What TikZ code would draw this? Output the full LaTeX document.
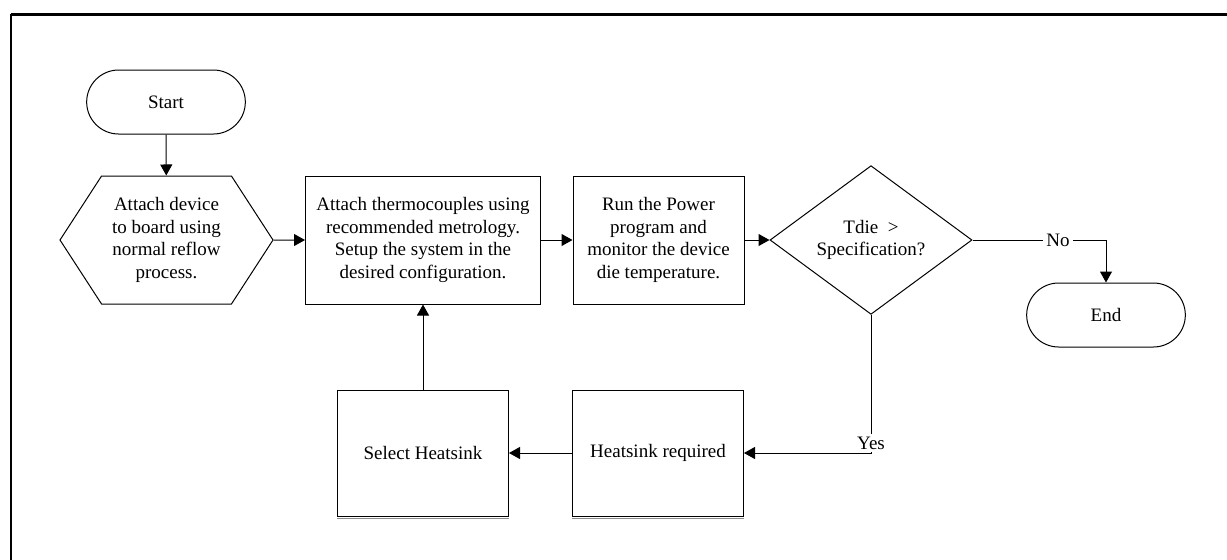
\documentclass[tikz,border=0pt]{standalone}
\usepackage{fontspec}
\setmainfont{Liberation Serif}
\usetikzlibrary{arrows.meta, shapes.geometric, shapes.misc, shapes.symbols}

\tikzset{
  termbox/.style={draw, rounded rectangle, line width=0.5pt, minimum width=86pt, minimum height=32pt},
  procbox/.style={draw, rectangle, line width=0.5pt, minimum height=64pt, inner sep=3pt},
  lowbox/.style={draw, rectangle, line width=0.5pt, minimum width=85.5pt, minimum height=63pt},
  lbl/.style={fill=white, inner sep=1.5pt}
}

\begin{document}
\begin{tikzpicture}[x=0.5pt, y=-0.5pt, every node/.style={align=center, font=\fontsize{9.5}{11.4}\selectfont}, >={Triangle[length=5.5pt,width=6pt]}, line width=0.5pt]
    \useasboundingbox (0,0) rectangle (1227,559);
    % frame
    \draw[line width=1pt] (11,570) -- (11,14);
    \draw[line width=1.5pt] (10.5,14) -- (1240,14);

    \node[termbox] (start) at (166,102) {Start};
    \node[draw, signal, signal to=east and west, signal pointer angle=114, minimum width=106.5pt, minimum height=64pt] (attach) at (166.5,240) {Attach device\\to board using\\normal reflow\\process.};
    \node[procbox, minimum width=117.5pt] (setup) at (423,240) {Attach thermocouples using\\recommended metrology.\\Setup the system in the\\desired configuration.};
    \node[procbox, minimum width=85.5pt] (run) at (658.5,240) {Run the Power\\program and\\monitor the device\\die temperature.};
    \node[draw, diamond, inner sep=0pt, minimum width=101pt, minimum height=63.5pt] (tdie) at (871,240) {Tdie~~>\\Specification?};
    \node[termbox] (end) at (1106,315) {End};
    \node[lowbox] (hsreq) at (658,453) {Heatsink required};
    \node[lowbox] (sel) at (423,453) {Select Heatsink};

    % shadow under the lower boxes
    \draw[black!45] ([yshift=-0.9pt]sel.south west) -- ([yshift=-0.9pt]sel.south east);
    \draw[black!45] ([yshift=-0.9pt]hsreq.south west) -- ([yshift=-0.9pt]hsreq.south east);

    \draw[->] (start) -- (attach);
    \draw[->] (attach) -- (setup);
    \draw[->] (setup) -- (run);
    \draw[->] (run) -- (tdie);
    \draw[->] (tdie) -| node[lbl, pos=0.32] {No} (end);
    \draw[->] (tdie) |- node[lbl, yshift=5pt] {Yes} (hsreq);
    \draw[->] (hsreq) -- (sel);
    \draw[->] (sel) -- (setup);
\end{tikzpicture}
\end{document}
